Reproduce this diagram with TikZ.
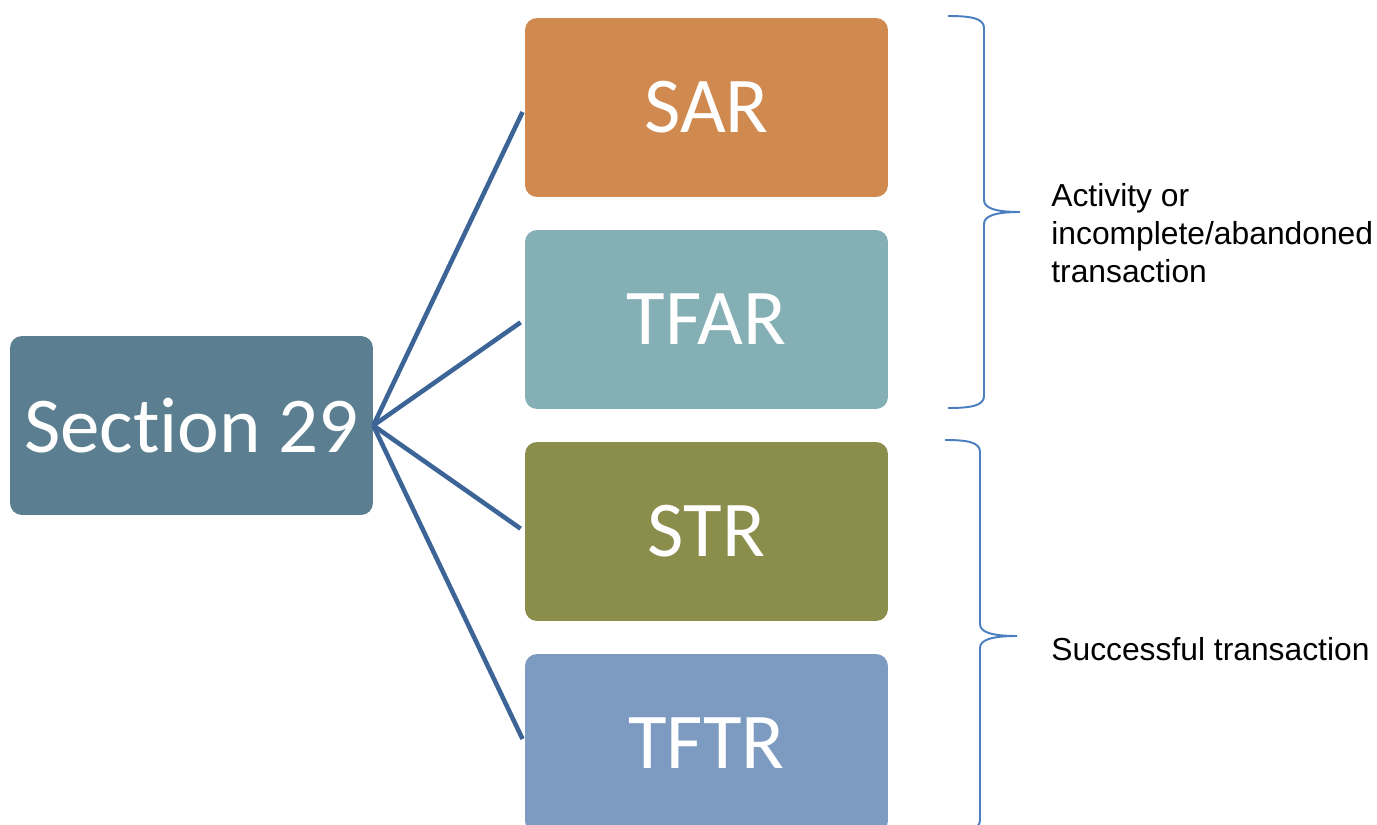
\documentclass[tikz,border=0pt]{standalone}
\usepackage{fontspec}
\setmainfont{Carlito}[Ligatures={NoCommon}]
\newfontfamily\arialfont{Liberation Sans}
\definecolor{csec}{HTML}{5B7F91}
\definecolor{csar}{HTML}{D0894E}
\definecolor{ctfar}{HTML}{84AFB5}
\definecolor{cstr}{HTML}{8B8D4B}
\definecolor{ctftr}{HTML}{7D9BC1}
\definecolor{cline}{HTML}{3C6496}
\definecolor{cbrace}{HTML}{4A7EC0}
\begin{document}
\begin{tikzpicture}[x=0.02cm,y=-0.02cm,
  box/.style={rectangle, rounded corners=0.24cm, minimum width=7.26cm, minimum height=3.58cm,
    inner sep=0pt, text=white, font=\fontsize{45}{54}\selectfont},
  conn/.style={cline, line width=2.6pt, shorten >=0.1cm},
  bracestyle/.style={cbrace, line width=1.1pt},
  lbl/.style={anchor=west, inner sep=0pt, align=left, font=\arialfont\fontsize{18.1}{21.8}\selectfont}]
\useasboundingbox (0,0) rectangle (1377,825);
\begin{scope}
\clip (0,0) rectangle (1377,825);
\node[box, fill=csec] (sec) at (191.5,425.5) {Section 29};
\node[box, fill=csar] (sar) at (706.5,107.5) {SAR};
\node[box, fill=ctfar] (tfar) at (706.5,319.5) {TFAR};
\node[box, fill=cstr] (str) at (706.5,531.5) {STR};
\node[box, fill=ctftr] (tftr) at (706.5,743.5) {TFTR};
\draw[conn] (sec.east) -- (sar.west);
\draw[conn] (sec.east) -- (tfar.west);
\draw[conn] (sec.east) -- (str.west);
\draw[conn] (sec.east) -- (tftr.west);
\coordinate (b1a) at (948,16);
\coordinate (b1t) at (1020,212);
\coordinate (b1b) at (948,408);
\draw[bracestyle] (b1a) .. controls (970,16) and (984,18) .. (984,28) -- (984,200)
  .. controls (984,208) and (995,212) .. (b1t) .. controls (995,212) and (984,216) .. (984,224)
  -- (984,396) .. controls (984,406) and (970,408) .. (b1b);
\coordinate (b2a) at (945,440);
\coordinate (b2t) at (1017,636);
\coordinate (b2b) at (945,832);
\draw[bracestyle] (b2a) .. controls (967,440) and (980,442) .. (980,452) -- (980,624)
  .. controls (980,632) and (991,636) .. (b2t) .. controls (991,636) and (980,640) .. (980,648)
  -- (980,820) .. controls (980,830) and (967,832) .. (b2b);
\node[lbl] (l1) at (1051,233) {Activity or\\incomplete/abandoned\\transaction};
\node[lbl] (l2) at (1051,649) {Successful transaction};
\end{scope}
\end{tikzpicture}
\end{document}
